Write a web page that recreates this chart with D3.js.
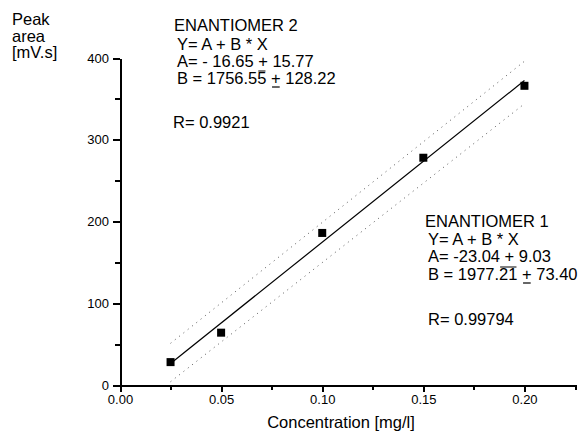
<!DOCTYPE html>
<meta charset="utf-8">
<style>

body {
  margin: 0;
  background: #fff;
}

text {
  font-family: "Liberation Sans", Arial, sans-serif;
  fill: #000;
}

.axis path,
.axis line {
  stroke: #000;
  stroke-width: 2px;
  shape-rendering: crispEdges;
}

.axis text {
  font-size: 13px;
}

.fit {
  fill: none;
  stroke: #000;
  stroke-width: 1.2px;
}

.band {
  fill: none;
  stroke: #555;
  stroke-width: 1px;
  stroke-dasharray: 1, 4.5;
}

.note {
  font-size: 16.5px;
}

</style>
<body>
<script src="https://cdn.jsdelivr.net/npm/d3@7/dist/d3.min.js"></script>
<script>

var width = 585,
    height = 434;

// calibration points
var conc = [0.025, 0.05, 0.10, 0.15, 0.20];
var area = [28, 64, 186, 278, 366];

// regression line (enantiomer 1)
var fitA = -23.04,
    fitB = 1977.21,
    fitRange = [0.025, 0.20];

// confidence band ends
var bandConc = [0.025, 0.20];
var bandUpper = [51, 396];
var bandLower = [4, 344];

var xTicks = [0, 0.05, 0.10, 0.15, 0.20];
var xMinor = [0.025, 0.075, 0.125, 0.175, 0.225];
var yTicks = [0, 100, 200, 300, 400];
var yMinor = [50, 150, 250, 350];

var yTitle = ["Peak", "area", "[mV.s]"];
var xTitle = "Concentration [mg/l]";

// text blocks; over = chars with an overbar, under = char with an underbar
var enant2 = [
  {t: "ENANTIOMER 2", dx: 0, y: 31},
  {t: "Y= A + B * X", dx: 3, y: 50},
  {t: "A= - 16.65 + 15.77", dx: 3, y: 67},
  {t: "B = 1756.55 + 128.22", dx: 3, y: 84, over: [10, 1], under: 12},
  {t: "R= 0.9921", dx: -1, y: 128}
];
var enant1 = [
  {t: "ENANTIOMER 1", dx: 0, y: 227},
  {t: "Y= A + B * X", dx: 3, y: 245},
  {t: "A= -23.04 + 9.03", dx: 3, y: 262},
  {t: "B = 1977.21 + 73.40", dx: 3, y: 280, over: [9, 2], under: 12},
  {t: "R= 0.99794", dx: 3, y: 325}
];

var x = d3.scaleLinear()
    .domain([0, 0.225])
    .range([120, 575]);

var y = d3.scaleLinear()
    .domain([0, 400])
    .range([385, 58]);

var svg = d3.select("body").append("svg")
    .attr("width", width)
    .attr("height", height);

// axes
svg.append("g")
    .attr("class", "axis")
    .attr("transform", "translate(0," + y(0) + ")")
    .call(d3.axisBottom(x).tickValues(xTicks).tickFormat(d3.format(".2f"))
      .tickSize(7).tickSizeOuter(0).tickPadding(3));

svg.append("g")
    .attr("class", "axis")
    .attr("transform", "translate(0," + y(0) + ")")
    .call(d3.axisBottom(x).tickValues(xMinor).tickFormat("")
      .tickSize(5).tickSizeOuter(0))
  .select(".domain").remove();

svg.append("g")
    .attr("class", "axis")
    .attr("transform", "translate(" + x(0) + ",0)")
    .call(d3.axisLeft(y).tickValues(yTicks)
      .tickSize(7).tickSizeOuter(0).tickPadding(4));

svg.append("g")
    .attr("class", "axis")
    .attr("transform", "translate(" + x(0) + ",0)")
    .call(d3.axisLeft(y).tickValues(yMinor).tickFormat("")
      .tickSize(5).tickSizeOuter(0))
  .select(".domain").remove();

svg.selectAll(".axis text").style("font-family", "'Liberation Sans', Arial, sans-serif");

// bands
var line = d3.line()
    .x(function(d) { return x(d[0]); })
    .y(function(d) { return y(d[1]); });

svg.append("path")
    .attr("class", "band")
    .attr("d", line(d3.zip(bandConc, bandUpper)));

svg.append("path")
    .attr("class", "band")
    .attr("d", line(d3.zip(bandConc, bandLower)));

// fit
svg.append("path")
    .attr("class", "fit")
    .attr("d", line(fitRange.map(function(c) { return [c, fitA + fitB * c]; })));

// points
svg.selectAll(".pt")
    .data(d3.zip(conc, area))
  .enter().append("rect")
    .attr("class", "pt")
    .attr("x", function(d) { return x(d[0]) - 4; })
    .attr("y", function(d) { return y(d[1]) - 4; })
    .attr("width", 8)
    .attr("height", 8)
    .attr("fill", "#000");

// titles
svg.append("g").selectAll("text")
    .data(yTitle)
  .enter().append("text")
    .attr("class", "note")
    .attr("x", 12)
    .attr("y", function(d, i) { return 25 + i * 16.5; })
    .text(function(d) { return d; });

svg.append("text")
    .attr("class", "note")
    .attr("x", 341)
    .attr("y", 428)
    .attr("text-anchor", "middle")
    .text(xTitle);

function block(lines, x0) {
  var g = svg.append("g");
  lines.forEach(function(d) {
    var t = g.append("text")
        .attr("class", "note")
        .attr("x", x0 + d.dx)
        .attr("y", d.y)
        .text(d.t);
    var node = t.node();
    if (d.over) {
      var a = x0 + d.dx + node.getSubStringLength(0, d.over[0]);
      var w = node.getSubStringLength(d.over[0], d.over[1]);
      g.append("line")
          .attr("x1", a + 1).attr("x2", a + w - 1)
          .attr("y1", d.y - 13).attr("y2", d.y - 13)
          .attr("stroke", "#000").attr("stroke-width", 1);
    }
    if (d.under != null) {
      var b = x0 + d.dx + node.getSubStringLength(0, d.under);
      var u = node.getSubStringLength(d.under, 1);
      g.append("line")
          .attr("x1", b + 1).attr("x2", b + u - 1)
          .attr("y1", d.y + 3).attr("y2", d.y + 3)
          .attr("stroke", "#000").attr("stroke-width", 1.2);
    }
  });
}

block(enant2, 174);
block(enant1, 425);

</script>
